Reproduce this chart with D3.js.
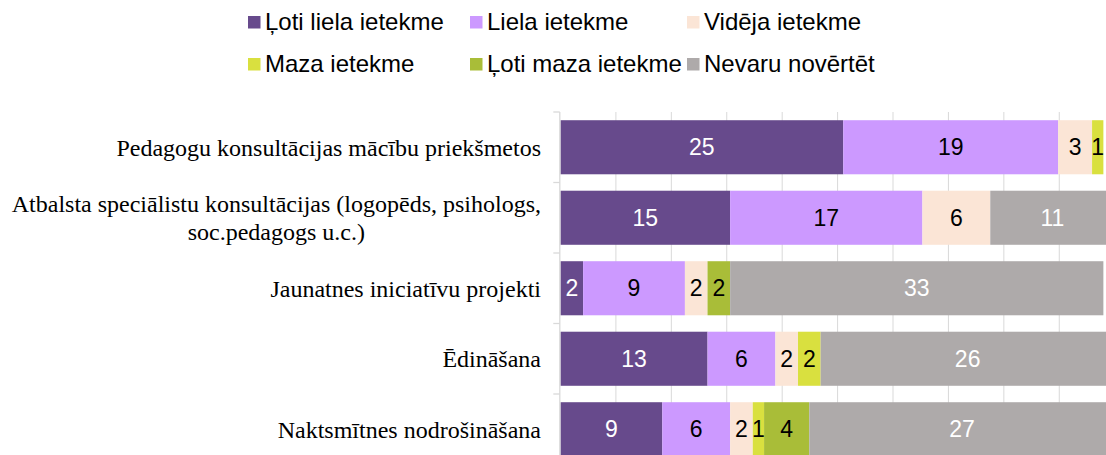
<!DOCTYPE html>
<html>
<head>
<meta charset="utf-8">
<script src="https://cdn.jsdelivr.net/npm/d3@7"></script>
<style>
  html, body { margin: 0; padding: 0; background: #fff; overflow: hidden; }
  svg { display: block; }
</style>
</head>
<body>
<svg id="chart" width="1106" height="455"></svg>
<script>
// ---- data ----
const categories = [
  "Pedagogu konsultācijas mācību priekšmetos",
  "Atbalsta speciālistu konsultācijas (logopēds, psihologs,\nsoc.pedagogs u.c.)",
  "Jaunatnes iniciatīvu projekti",
  "Ēdināšana",
  "Naktsmītnes nodrošināšana"
];
const seriesNames = ["Ļoti liela ietekme", "Liela ietekme", "Vidēja ietekme", "Maza ietekme", "Ļoti maza ietekme", "Nevaru novērtēt"];
const lotiLiela  = [25, 15, 2, 13, 9];
const liela      = [19, 17, 9, 6, 6];
const videja     = [3, 6, 2, 2, 2];
const maza       = [1, 0, 0, 2, 1];
const lotiMaza   = [0, 0, 2, 0, 4];
const nevaru     = [0, 11, 33, 26, 27];
const gridTicks  = [4.9, 9.8, 14.7, 19.6, 24.5, 29.4, 34.3, 39.2, 44.1, 49];
const xMax = 49;

const seriesValues = [lotiLiela, liela, videja, maza, lotiMaza, nevaru];
const colors = ["#674A8C", "#CC99FF", "#FBE5D6", "#D9E03F", "#A9BD38", "#AEAAAA"];
const labelColors = ["#FFFFFF", "#000000", "#000000", "#000000", "#000000", "#FFFFFF"];

// table for stack
const table = categories.map((c, i) => {
  const row = { cat: c };
  seriesNames.forEach((s, j) => row[s] = seriesValues[j][i]);
  return row;
});

const svg = d3.select("#chart");
const plotLeft = 560.5, plotTop = 112, plotBottom = 464.5;

const x = d3.scaleLinear().domain([0, xMax]).range([plotLeft, plotLeft + xMax * 11.31]);
const y = d3.scaleBand().domain(categories).range([plotTop, plotBottom]).paddingInner(0.233).paddingOuter(0.1165);

// gridlines
svg.append("g").selectAll("line").data(gridTicks).join("line")
  .attr("x1", d => x(d)).attr("x2", d => x(d))
  .attr("y1", plotTop).attr("y2", plotBottom)
  .attr("stroke", "#D9D9D9").attr("stroke-width", 1);

// stacked bars
const stack = d3.stack().keys(seriesNames)(table);
const layers = svg.append("g").selectAll("g").data(stack).join("g")
  .attr("fill", (d, i) => colors[i]);
layers.selectAll("rect").data(d => d).join("rect")
  .attr("x", d => x(d[0]))
  .attr("width", d => x(d[1]) - x(d[0]))
  .attr("y", d => y(d.data.cat))
  .attr("height", y.bandwidth());

// bar labels
stack.forEach((layer, i) => {
  svg.append("g").selectAll("text").data(layer.filter(d => d[1] - d[0] > 0)).join("text")
    .attr("x", d => (x(d[0]) + x(d[1])) / 2)
    .attr("y", d => y(d.data.cat) + y.bandwidth() / 2)
    .attr("dy", "0.35em")
    .attr("text-anchor", "middle")
    .attr("font-family", "'Liberation Sans', Arial, sans-serif")
    .attr("font-size", 23)
    .attr("fill", labelColors[i])
    .text(d => d[1] - d[0]);
});

// left axis line and ticks
const axisX = 559.8;
svg.append("line").attr("x1", axisX).attr("x2", axisX).attr("y1", plotTop).attr("y2", plotBottom)
  .attr("stroke", "#D9D9D9").attr("stroke-width", 1.3);
const step = y.step();
const boundaries = d3.range(categories.length + 1).map(i => plotTop + i * step);
svg.append("g").selectAll("line").data(boundaries).join("line")
  .attr("x1", axisX - 6.5).attr("x2", axisX)
  .attr("y1", d => d).attr("y2", d => d)
  .attr("stroke", "#D9D9D9").attr("stroke-width", 1.3);

// category labels
const labelRight = 541;
const lineH = 27.5;
categories.forEach(c => {
  const lines = c.split("\n");
  const cy = y(c) + y.bandwidth() / 2;
  const t = svg.append("text")
    .attr("font-family", "'Liberation Serif', 'Times New Roman', serif")
    .attr("font-size", 24)
    .attr("fill", "#000")
    .attr("text-anchor", "middle");
  const spans = lines.map((ln, k) => t.append("tspan")
    .attr("y", cy + (k - (lines.length - 1) / 2) * lineH)
    .attr("dy", "0.35em")
    .text(ln));
  const w = d3.max(spans, s => s.node().getComputedTextLength());
  spans.forEach(s => s.attr("x", labelRight - w / 2));
});

// legend
const legCols = [248, 470, 687];
const legRows = [22, 64];
const leg = svg.append("g").selectAll("g").data(seriesNames).join("g")
  .attr("transform", (d, i) => `translate(${legCols[i % 3]},${legRows[Math.floor(i / 3)]})`);
leg.append("rect").attr("x", 0).attr("y", -6).attr("width", 12.5).attr("height", 12.5)
  .attr("fill", (d, i) => colors[i]);
leg.append("text").attr("x", 17).attr("y", 0).attr("dy", "0.35em")
  .attr("font-family", "'Liberation Sans', Arial, sans-serif")
  .attr("font-size", 24).attr("fill", "#000")
  .text(d => d);
</script>
</body>
</html>
